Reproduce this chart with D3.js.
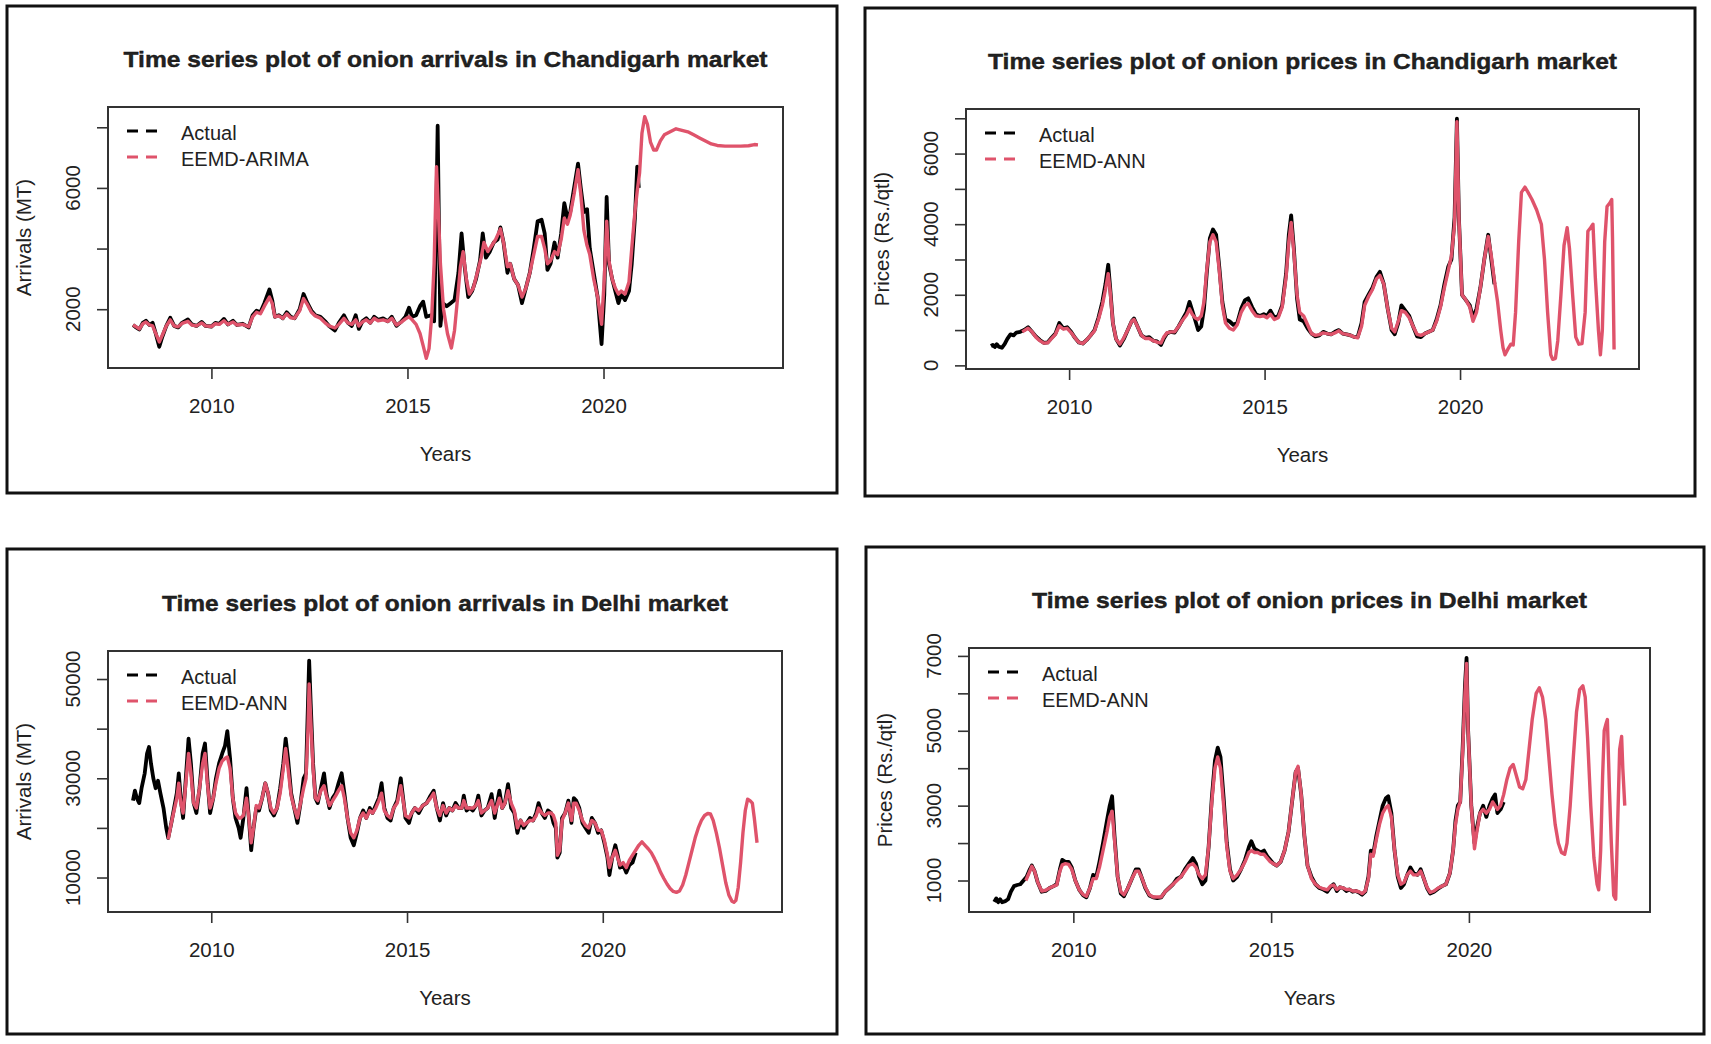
<!DOCTYPE html>
<html><head><meta charset="utf-8">
<script src="https://cdn.jsdelivr.net/npm/d3@7"></script>
<style>
body{margin:0;background:#fff}
svg text{font-family:"Liberation Sans",Arial,sans-serif;fill:#222}
</style>
</head><body>
<svg id="chart" width="1711" height="1044"></svg>
<script>
// ---------------- DATA ----------------
const xTicks = [2010, 2015, 2020];

const tlTitle = "Time series plot of onion arrivals in Chandigarh market";
const trTitle = "Time series plot of onion prices in Chandigarh market";
const blTitle = "Time series plot of onion arrivals in Delhi market";
const brTitle = "Time series plot of onion prices in Delhi market";

const tlYTicks = [2000, 4000, 6000, 8000];
const tlYLabels = [2000, 6000];
const trYTicks = [0, 1000, 2000, 3000, 4000, 5000, 6000, 7000];
const trYLabels = [0, 2000, 4000, 6000];
const blYTicks = [10000, 20000, 30000, 40000, 50000];
const blYLabels = [10000, 30000, 50000];
const brYTicks = [1000, 2000, 3000, 4000, 5000, 6000, 7000];
const brYLabels = [1000, 3000, 5000, 7000];

// Chandigarh arrivals: actual
const tlActual = [[2008.00,1480],[2008.08,1400],[2008.16,1330],[2008.25,1550],[2008.33,1620],[2008.42,1480],[2008.50,1550],[2008.58,1200],[2008.67,760],[2008.75,1100],[2008.85,1450],[2008.95,1720],[2009.05,1450],[2009.15,1400],[2009.25,1550],[2009.40,1660],[2009.50,1500],[2009.62,1450],[2009.75,1580],[2009.85,1450],[2010.00,1430],[2010.10,1550],[2010.20,1520],[2010.32,1680],[2010.42,1500],[2010.55,1620],[2010.65,1480],[2010.80,1520],[2010.95,1400],[2011.05,1800],[2011.15,1950],[2011.25,1900],[2011.35,2200],[2011.48,2650],[2011.55,2300],[2011.62,1750],[2011.72,1800],[2011.82,1700],[2011.92,1900],[2012.02,1750],[2012.12,1700],[2012.25,2000],[2012.35,2500],[2012.45,2200],[2012.55,1950],[2012.65,1800],[2012.78,1750],[2012.90,1600],[2013.00,1450],[2013.15,1300],[2013.25,1550],[2013.38,1800],[2013.48,1550],[2013.58,1450],[2013.68,1800],[2013.76,1350],[2013.85,1600],[2013.95,1700],[2014.05,1550],[2014.15,1750],[2014.25,1650],[2014.38,1700],[2014.50,1600],[2014.60,1750],[2014.72,1450],[2014.85,1600],[2014.95,1750],[2015.04,2050],[2015.12,1750],[2015.22,1800],[2015.32,2100],[2015.40,2250],[2015.48,1750],[2015.60,1800],[2015.68,1600],[2015.74,5500],[2015.77,8050],[2015.80,5000],[2015.84,1450],[2015.90,2200],[2016.00,2100],[2016.10,2200],[2016.20,2300],[2016.30,3200],[2016.38,4500],[2016.45,3500],[2016.55,2400],[2016.65,2600],[2016.75,3000],[2016.85,3600],[2016.92,4500],[2017.00,3700],[2017.10,3900],[2017.20,4200],[2017.30,4300],[2017.37,4700],[2017.45,4200],[2017.55,3200],[2017.62,3500],[2017.72,3000],[2017.82,2800],[2017.92,2200],[2018.02,2700],[2018.12,3200],[2018.22,4000],[2018.32,4900],[2018.42,4950],[2018.50,4500],[2018.57,3300],[2018.65,3500],[2018.75,4200],[2018.83,3700],[2018.92,4500],[2019.00,5500],[2019.08,5000],[2019.15,5200],[2019.25,6000],[2019.35,6800],[2019.42,6000],[2019.50,5200],[2019.58,5300],[2019.65,4000],[2019.75,3200],[2019.85,2400],[2019.95,850],[2020.02,2500],[2020.08,5700],[2020.14,3500],[2020.22,3000],[2020.30,2600],[2020.38,2200],[2020.45,2500],[2020.55,2300],[2020.65,2600],[2020.72,3500],[2020.80,5000],[2020.86,6700],[2020.90,6000]];

// Chandigarh arrivals: EEMD-ARIMA fitted + forecast
const tlFit = [[2008.00,1480],[2008.08,1420],[2008.16,1350],[2008.25,1520],[2008.33,1580],[2008.42,1480],[2008.50,1450],[2008.58,1200],[2008.67,920],[2008.75,1150],[2008.85,1450],[2008.95,1650],[2009.05,1450],[2009.15,1420],[2009.25,1530],[2009.40,1600],[2009.50,1480],[2009.62,1450],[2009.75,1550],[2009.85,1450],[2010.00,1430],[2010.10,1520],[2010.20,1500],[2010.32,1620],[2010.42,1500],[2010.55,1580],[2010.65,1480],[2010.80,1500],[2010.95,1420],[2011.05,1750],[2011.15,1900],[2011.25,1850],[2011.35,2100],[2011.48,2400],[2011.55,2200],[2011.62,1750],[2011.72,1780],[2011.82,1700],[2011.92,1850],[2012.02,1720],[2012.12,1700],[2012.25,1950],[2012.35,2350],[2012.45,2150],[2012.55,1900],[2012.65,1780],[2012.78,1700],[2012.90,1550],[2013.00,1450],[2013.15,1380],[2013.25,1500],[2013.38,1700],[2013.48,1550],[2013.58,1500],[2013.68,1650],[2013.76,1450],[2013.85,1580],[2013.95,1650],[2014.05,1550],[2014.15,1700],[2014.25,1620],[2014.38,1650],[2014.50,1600],[2014.60,1700],[2014.72,1480],[2014.85,1580],[2014.95,1680],[2015.04,1750],[2015.12,1650],[2015.22,1500],[2015.32,1200],[2015.40,800],[2015.48,380],[2015.55,700],[2015.62,1800],[2015.68,3500],[2015.74,6700],[2015.78,5500],[2015.84,3500],[2015.92,2000],[2016.02,1200],[2016.12,720],[2016.20,1300],[2016.28,2400],[2016.35,3400],[2016.42,3900],[2016.50,3000],[2016.58,2500],[2016.68,2700],[2016.78,3200],[2016.88,3700],[2016.95,4200],[2017.05,3900],[2017.15,4100],[2017.25,4300],[2017.37,4650],[2017.45,4200],[2017.55,3400],[2017.62,3500],[2017.72,3000],[2017.82,2800],[2017.92,2400],[2018.02,2700],[2018.12,3200],[2018.22,3800],[2018.32,4400],[2018.42,4400],[2018.50,4000],[2018.57,3500],[2018.65,3600],[2018.75,3900],[2018.83,3800],[2018.92,4300],[2019.00,5000],[2019.08,4800],[2019.15,5100],[2019.25,5800],[2019.35,6600],[2019.42,5800],[2019.50,4600],[2019.58,4100],[2019.65,3800],[2019.75,3000],[2019.85,2400],[2019.95,1500],[2020.02,3000],[2020.08,4900],[2020.14,3600],[2020.22,3000],[2020.30,2700],[2020.38,2500],[2020.45,2600],[2020.55,2500],[2020.65,2900],[2020.72,4000],[2020.80,5200],[2020.86,5900],[2020.92,6500],[2020.98,7800],[2021.05,8350],[2021.12,8100],[2021.20,7500],[2021.28,7250],[2021.35,7250],[2021.45,7550],[2021.55,7750],[2021.70,7850],[2021.85,7950],[2022.00,7900],[2022.15,7850],[2022.30,7750],[2022.45,7650],[2022.60,7550],[2022.75,7450],[2022.90,7400],[2023.10,7380],[2023.30,7380],[2023.50,7380],[2023.70,7390],[2023.85,7430],[2023.94,7420]];

// Chandigarh prices: actual
const trActual = [[2008.00,550],[2008.05,580],[2008.10,520],[2008.15,600],[2008.20,530],[2008.28,500],[2008.35,600],[2008.42,750],[2008.50,880],[2008.58,850],[2008.65,930],[2008.75,950],[2008.85,1000],[2008.95,1080],[2009.05,950],[2009.15,820],[2009.25,720],[2009.35,640],[2009.45,650],[2009.55,780],[2009.65,900],[2009.75,1200],[2009.85,1050],[2009.95,1080],[2010.05,950],[2010.15,780],[2010.25,650],[2010.35,620],[2010.45,720],[2010.55,850],[2010.65,1000],[2010.75,1350],[2010.85,1800],[2010.93,2300],[2011.00,2850],[2011.05,2200],[2011.12,1200],[2011.20,750],[2011.30,560],[2011.40,750],[2011.50,1000],[2011.60,1250],[2011.66,1330],[2011.75,1100],[2011.85,850],[2011.95,780],[2012.05,800],[2012.15,700],[2012.25,680],[2012.35,580],[2012.42,750],[2012.50,900],[2012.60,950],[2012.70,930],[2012.80,1100],[2012.90,1300],[2013.00,1500],[2013.08,1800],[2013.15,1550],[2013.22,1300],[2013.30,1000],[2013.38,1100],[2013.45,1600],[2013.52,2600],[2013.60,3600],[2013.68,3850],[2013.76,3700],[2013.84,2800],[2013.92,1800],[2014.00,1300],[2014.10,1250],[2014.20,1150],[2014.30,1200],[2014.40,1600],[2014.50,1850],[2014.58,1900],[2014.68,1650],[2014.78,1450],[2014.88,1400],[2014.98,1450],[2015.06,1400],[2015.15,1550],[2015.25,1350],[2015.35,1400],[2015.45,1700],[2015.55,2600],[2015.62,3700],[2015.68,4250],[2015.75,3300],[2015.83,1900],[2015.90,1300],[2016.00,1250],[2016.10,1050],[2016.20,900],[2016.30,820],[2016.40,850],[2016.50,950],[2016.60,900],[2016.70,880],[2016.80,950],[2016.90,1000],[2017.00,900],[2017.10,880],[2017.20,850],[2017.30,800],[2017.38,800],[2017.48,1200],[2017.56,1800],[2017.66,2000],[2017.76,2200],[2017.86,2500],[2017.95,2650],[2018.05,2300],[2018.15,1600],[2018.25,1000],[2018.33,880],[2018.42,1200],[2018.50,1700],[2018.60,1550],[2018.70,1400],[2018.80,1100],[2018.90,820],[2019.00,800],[2019.10,900],[2019.20,950],[2019.30,1000],[2019.40,1300],[2019.50,1700],[2019.60,2300],[2019.70,2800],[2019.78,3000],[2019.86,4200],[2019.92,6990],[2019.97,4200],[2020.05,2000],[2020.15,1850],[2020.25,1700],[2020.33,1350],[2020.42,1600],[2020.52,2200],[2020.62,3000],[2020.72,3700],[2020.80,3000],[2020.88,2300]];

// Chandigarh prices: EEMD-ANN fitted + forecast
const trFit = [[2008.80,950],[2008.95,1050],[2009.05,950],[2009.15,800],[2009.25,700],[2009.35,630],[2009.45,640],[2009.55,760],[2009.65,880],[2009.75,1120],[2009.85,1030],[2009.95,1050],[2010.05,930],[2010.15,780],[2010.25,650],[2010.35,620],[2010.45,720],[2010.55,850],[2010.65,980],[2010.75,1300],[2010.85,1700],[2010.93,2150],[2011.00,2600],[2011.05,2100],[2011.12,1200],[2011.20,750],[2011.30,600],[2011.40,780],[2011.50,1000],[2011.60,1250],[2011.66,1300],[2011.75,1100],[2011.85,850],[2011.95,760],[2012.05,760],[2012.15,700],[2012.25,660],[2012.35,630],[2012.42,800],[2012.50,920],[2012.60,950],[2012.70,950],[2012.80,1100],[2012.90,1280],[2013.00,1420],[2013.08,1600],[2013.15,1450],[2013.22,1350],[2013.30,1300],[2013.38,1400],[2013.45,1800],[2013.52,2700],[2013.60,3500],[2013.68,3700],[2013.76,3500],[2013.84,2700],[2013.92,1700],[2014.00,1200],[2014.10,1050],[2014.20,1000],[2014.30,1150],[2014.40,1500],[2014.50,1700],[2014.58,1750],[2014.68,1550],[2014.78,1400],[2014.88,1380],[2014.98,1400],[2015.06,1350],[2015.15,1450],[2015.25,1300],[2015.35,1350],[2015.45,1650],[2015.55,2500],[2015.62,3500],[2015.68,4050],[2015.75,3200],[2015.83,2000],[2015.90,1500],[2016.00,1400],[2016.10,1150],[2016.20,900],[2016.30,850],[2016.40,870],[2016.50,920],[2016.60,900],[2016.70,880],[2016.80,920],[2016.90,980],[2017.00,900],[2017.10,880],[2017.20,850],[2017.30,800],[2017.38,780],[2017.48,1100],[2017.56,1700],[2017.66,1950],[2017.76,2150],[2017.86,2450],[2017.95,2550],[2018.05,2300],[2018.15,1600],[2018.25,1050],[2018.33,950],[2018.42,1250],[2018.50,1550],[2018.60,1500],[2018.70,1350],[2018.80,1100],[2018.90,880],[2019.00,850],[2019.10,900],[2019.20,950],[2019.30,1000],[2019.40,1250],[2019.50,1650],[2019.60,2200],[2019.70,2700],[2019.78,3100],[2019.86,4000],[2019.92,6900],[2019.97,4200],[2020.05,2000],[2020.15,1850],[2020.25,1650],[2020.33,1250],[2020.42,1500],[2020.52,2200],[2020.62,3000],[2020.72,3650],[2020.80,3100],[2020.88,2400],[2020.96,1800],[2021.04,1000],[2021.10,500],[2021.15,300],[2021.22,450],[2021.30,600],[2021.36,580],[2021.42,1500],[2021.50,3500],[2021.57,4900],[2021.66,5050],[2021.74,4900],[2021.84,4700],[2021.96,4400],[2022.08,4000],[2022.16,3000],[2022.24,1500],[2022.32,300],[2022.37,170],[2022.44,200],[2022.50,700],[2022.58,2000],[2022.66,3400],[2022.74,3900],[2022.80,3300],[2022.88,2000],[2022.96,800],[2023.04,600],[2023.12,620],[2023.20,1500],[2023.27,3800],[2023.34,3900],[2023.40,4000],[2023.46,2500],[2023.54,1000],[2023.59,300],[2023.64,1000],[2023.70,3500],[2023.76,4500],[2023.83,4600],[2023.88,4700],[2023.90,3600],[2023.94,450]];

// Delhi arrivals: actual
const blActual = [[2008.00,25500],[2008.05,27500],[2008.10,26000],[2008.16,25000],[2008.22,28000],[2008.30,31000],[2008.36,35000],[2008.41,36300],[2008.46,33000],[2008.52,30000],[2008.58,28000],[2008.64,29500],[2008.70,27000],[2008.78,24000],[2008.85,20000],[2008.90,18000],[2008.98,21000],[2009.05,24000],[2009.12,27000],[2009.17,31000],[2009.22,26000],[2009.28,22000],[2009.35,30000],[2009.42,38000],[2009.48,33000],[2009.55,25000],[2009.62,23000],[2009.70,28000],[2009.78,35000],[2009.84,37000],[2009.90,30000],[2009.97,23000],[2010.05,26000],[2010.12,30000],[2010.20,33000],[2010.28,35000],[2010.35,36500],[2010.41,39500],[2010.48,34000],[2010.55,26000],[2010.62,22000],[2010.70,20000],[2010.75,18000],[2010.82,22000],[2010.90,28000],[2010.96,22000],[2011.02,15500],[2011.08,20000],[2011.15,24000],[2011.22,23500],[2011.30,26000],[2011.38,29000],[2011.45,27000],[2011.52,23500],[2011.60,22500],[2011.68,24000],[2011.76,28000],[2011.84,33000],[2011.90,38000],[2011.96,34000],[2012.04,27000],[2012.12,24000],[2012.20,21000],[2012.28,25000],[2012.36,30000],[2012.42,31000],[2012.47,45000],[2012.50,53700],[2012.54,45000],[2012.60,33000],[2012.66,26000],[2012.72,25000],[2012.80,28000],[2012.88,31000],[2012.94,27000],[2013.02,24000],[2013.10,26000],[2013.18,27000],[2013.25,29000],[2013.33,31000],[2013.40,27000],[2013.48,22000],[2013.56,18000],[2013.64,16500],[2013.72,19000],[2013.80,22000],[2013.88,23500],[2013.96,22000],[2014.05,24000],[2014.12,23000],[2014.20,24500],[2014.28,26000],[2014.35,29000],[2014.42,24000],[2014.50,22000],[2014.58,21500],[2014.66,24000],[2014.75,25500],[2014.84,30000],[2014.90,26000],[2014.96,22000],[2015.05,21000],[2015.12,23000],[2015.20,24000],[2015.30,23000],[2015.40,24500],[2015.50,25000],[2015.60,26500],[2015.68,27500],[2015.76,24000],[2015.84,21500],[2015.92,25000],[2016.00,22500],[2016.08,24000],[2016.16,23500],[2016.24,25000],[2016.32,24000],[2016.40,24000],[2016.45,26500],[2016.52,23500],[2016.60,24000],[2016.68,23500],[2016.76,24500],[2016.82,26500],[2016.90,22500],[2016.98,23500],[2017.06,24000],[2017.16,26800],[2017.24,22000],[2017.30,25000],[2017.36,27500],[2017.43,24000],[2017.50,25000],[2017.58,28800],[2017.66,24000],[2017.74,23000],[2017.82,19000],[2017.90,21500],[2017.98,20000],[2018.06,21000],[2018.14,22000],[2018.22,21500],[2018.30,23000],[2018.36,25000],[2018.44,23000],[2018.52,22000],[2018.60,23500],[2018.68,23000],[2018.74,21000],[2018.80,20000],[2018.84,14000],[2018.90,15000],[2018.96,22000],[2019.04,23000],[2019.12,25500],[2019.20,21000],[2019.26,26000],[2019.32,25500],[2019.40,24000],[2019.48,21000],[2019.56,20000],[2019.64,19000],[2019.72,22000],[2019.80,21000],[2019.88,19000],[2019.96,19500],[2020.04,17000],[2020.12,14000],[2020.17,10500],[2020.24,14000],[2020.32,16500],[2020.38,14500],[2020.44,12000],[2020.52,12500],[2020.60,11000],[2020.68,12500],[2020.76,13000],[2020.84,15000]];

// Delhi arrivals: EEMD-ANN fitted + forecast
const blFit = [[2008.90,17700],[2008.98,21000],[2009.05,23500],[2009.12,26000],[2009.17,29000],[2009.22,25000],[2009.28,23000],[2009.35,29000],[2009.42,35000],[2009.48,31000],[2009.55,25000],[2009.62,24000],[2009.70,28000],[2009.78,33000],[2009.84,35000],[2009.90,29000],[2009.97,24000],[2010.05,26000],[2010.12,29000],[2010.20,32000],[2010.28,33500],[2010.35,34000],[2010.41,34300],[2010.48,32000],[2010.55,26000],[2010.62,23000],[2010.70,22000],[2010.75,22000],[2010.82,22500],[2010.90,26000],[2010.96,22000],[2011.02,17000],[2011.08,20000],[2011.15,24500],[2011.22,24000],[2011.30,26000],[2011.38,29000],[2011.45,27000],[2011.52,24000],[2011.60,23000],[2011.68,24000],[2011.76,27000],[2011.84,32000],[2011.90,36000],[2011.96,32000],[2012.04,26500],[2012.12,24000],[2012.20,22000],[2012.28,25000],[2012.36,28000],[2012.42,30000],[2012.47,40000],[2012.50,49000],[2012.54,42000],[2012.60,32000],[2012.66,26000],[2012.72,25500],[2012.80,27500],[2012.88,28500],[2012.94,26500],[2013.02,24500],[2013.10,25500],[2013.18,26500],[2013.25,27500],[2013.33,28500],[2013.40,26000],[2013.48,22000],[2013.56,19000],[2013.64,18000],[2013.72,19500],[2013.80,22000],[2013.88,23000],[2013.96,22000],[2014.05,23500],[2014.12,23000],[2014.20,24000],[2014.28,25500],[2014.35,27000],[2014.42,23500],[2014.50,22500],[2014.58,22000],[2014.66,24000],[2014.75,25000],[2014.84,28500],[2014.90,25500],[2014.96,22500],[2015.05,22000],[2015.12,23000],[2015.20,24000],[2015.30,23500],[2015.40,24500],[2015.50,25000],[2015.60,26000],[2015.68,27000],[2015.76,24000],[2015.84,22500],[2015.92,24500],[2016.00,23000],[2016.08,24000],[2016.16,23500],[2016.24,24500],[2016.32,24000],[2016.40,24000],[2016.45,25500],[2016.52,24000],[2016.60,24000],[2016.68,24000],[2016.76,24500],[2016.82,25500],[2016.90,23000],[2016.98,23500],[2017.06,24000],[2017.16,25500],[2017.24,23000],[2017.30,24500],[2017.36,26000],[2017.43,24000],[2017.50,25000],[2017.58,27500],[2017.66,25000],[2017.74,23500],[2017.82,20000],[2017.90,21500],[2017.98,20500],[2018.06,21000],[2018.14,21500],[2018.22,21500],[2018.30,22500],[2018.36,24000],[2018.44,23000],[2018.52,22500],[2018.60,23000],[2018.68,23000],[2018.74,22500],[2018.80,21000],[2018.84,14500],[2018.90,15500],[2018.96,21500],[2019.04,23000],[2019.12,25000],[2019.20,21500],[2019.26,25000],[2019.32,25000],[2019.40,23500],[2019.48,21500],[2019.56,20500],[2019.64,20000],[2019.72,21500],[2019.80,21000],[2019.88,19500],[2019.96,19500],[2020.04,17500],[2020.12,14500],[2020.17,12000],[2020.24,14000],[2020.32,15500],[2020.38,14000],[2020.44,12500],[2020.52,13000],[2020.60,12000],[2020.68,13500],[2020.76,14500],[2020.84,15500],[2020.92,16500],[2021.00,17200],[2021.08,16500],[2021.16,15800],[2021.24,15000],[2021.32,13800],[2021.40,12500],[2021.48,11000],[2021.56,9800],[2021.64,8700],[2021.72,7800],[2021.80,7200],[2021.88,7000],[2021.96,7300],[2022.04,8500],[2022.12,10500],[2022.20,13000],[2022.28,15500],[2022.36,18000],[2022.44,20000],[2022.52,21500],[2022.60,22500],[2022.68,22900],[2022.75,22800],[2022.82,21500],[2022.90,19000],[2022.98,16000],[2023.06,12500],[2023.14,9000],[2023.22,6500],[2023.30,5200],[2023.35,5000],[2023.40,5400],[2023.46,8000],[2023.52,13000],[2023.58,19000],[2023.64,23500],[2023.70,25800],[2023.76,25500],[2023.82,25000],[2023.87,22000],[2023.94,17000]];

// Delhi prices: actual
const brActual = [[2008.00,430],[2008.05,520],[2008.10,420],[2008.15,500],[2008.20,420],[2008.28,450],[2008.35,500],[2008.42,700],[2008.50,850],[2008.58,880],[2008.66,900],[2008.74,1000],[2008.82,1100],[2008.90,1300],[2008.95,1400],[2009.02,1250],[2009.10,950],[2009.20,700],[2009.30,720],[2009.40,800],[2009.50,850],[2009.58,900],[2009.66,1300],[2009.72,1550],[2009.80,1500],[2009.88,1500],[2009.96,1350],[2010.05,1000],[2010.15,750],[2010.25,600],[2010.33,550],[2010.42,800],[2010.50,1150],[2010.58,1100],[2010.66,1500],[2010.75,2000],[2010.85,2600],[2010.92,3000],[2010.98,3250],[2011.04,2200],[2011.12,1100],[2011.20,650],[2011.28,580],[2011.38,800],[2011.48,1050],[2011.58,1300],[2011.65,1300],[2011.72,1100],[2011.82,800],[2011.92,600],[2012.02,550],[2012.12,530],[2012.22,550],[2012.32,700],[2012.42,800],[2012.52,900],[2012.62,1050],[2012.72,1100],[2012.82,1300],[2012.92,1450],[2013.02,1600],[2013.10,1450],[2013.18,1100],[2013.26,900],[2013.34,1000],[2013.42,1900],[2013.50,3200],[2013.58,4200],[2013.65,4550],[2013.72,4300],[2013.80,3200],[2013.88,2000],[2013.96,1300],[2014.04,1000],[2014.14,1100],[2014.24,1300],[2014.34,1550],[2014.44,1900],[2014.50,2050],[2014.58,1850],[2014.66,1800],[2014.74,1750],[2014.82,1800],[2014.90,1650],[2014.98,1550],[2015.06,1450],[2015.14,1400],[2015.24,1500],[2015.34,1800],[2015.44,2300],[2015.54,3200],[2015.62,3900],[2015.68,4000],[2015.76,3300],[2015.84,2200],[2015.92,1400],[2016.02,1100],[2016.12,900],[2016.22,800],[2016.32,760],[2016.42,700],[2016.50,820],[2016.58,900],[2016.66,720],[2016.74,820],[2016.82,800],[2016.90,720],[2016.98,760],[2017.06,700],[2017.14,720],[2017.22,680],[2017.30,620],[2017.38,700],[2017.46,1100],[2017.52,1800],[2017.58,1700],[2017.66,2200],[2017.74,2600],[2017.82,3000],[2017.90,3200],[2017.96,3250],[2018.04,2800],[2018.12,1800],[2018.20,1100],[2018.28,800],[2018.36,900],[2018.44,1150],[2018.52,1350],[2018.60,1200],[2018.70,1150],[2018.78,1300],[2018.86,1050],[2018.94,800],[2019.02,650],[2019.12,700],[2019.22,780],[2019.32,850],[2019.42,900],[2019.52,1200],[2019.60,1800],[2019.66,2600],[2019.72,3000],[2019.78,3100],[2019.84,4500],[2019.90,6200],[2019.94,6950],[2019.98,5000],[2020.06,3000],[2020.14,2000],[2020.20,2400],[2020.28,2800],[2020.36,3000],[2020.44,2700],[2020.52,3000],[2020.60,3200],[2020.66,3300],[2020.72,2800],[2020.80,2900],[2020.88,3100]];

// Delhi prices: EEMD-ANN fitted + forecast
const brFit = [[2008.80,1000],[2008.88,1200],[2008.95,1380],[2009.02,1250],[2009.10,950],[2009.20,720],[2009.30,740],[2009.40,800],[2009.50,850],[2009.58,880],[2009.66,1250],[2009.72,1420],[2009.80,1450],[2009.88,1430],[2009.96,1300],[2010.05,1000],[2010.15,750],[2010.25,620],[2010.33,580],[2010.42,800],[2010.50,1050],[2010.58,1050],[2010.66,1350],[2010.75,1800],[2010.85,2300],[2010.92,2700],[2010.98,2850],[2011.04,2100],[2011.12,1100],[2011.20,700],[2011.28,620],[2011.38,800],[2011.48,1050],[2011.58,1250],[2011.65,1250],[2011.72,1100],[2011.82,820],[2011.92,620],[2012.02,560],[2012.12,560],[2012.22,560],[2012.32,700],[2012.42,800],[2012.52,900],[2012.62,1000],[2012.72,1100],[2012.82,1250],[2012.92,1400],[2013.02,1450],[2013.10,1350],[2013.18,1150],[2013.26,1050],[2013.34,1150],[2013.42,1900],[2013.50,3100],[2013.58,4000],[2013.65,4300],[2013.72,4000],[2013.80,3000],[2013.88,1900],[2013.96,1250],[2014.04,1050],[2014.14,1150],[2014.24,1300],[2014.34,1500],[2014.44,1750],[2014.50,1800],[2014.58,1750],[2014.66,1750],[2014.74,1700],[2014.82,1700],[2014.90,1600],[2014.98,1500],[2015.06,1450],[2015.14,1400],[2015.24,1500],[2015.34,1800],[2015.44,2300],[2015.54,3200],[2015.62,3900],[2015.68,4050],[2015.76,3300],[2015.84,2200],[2015.92,1400],[2016.02,1050],[2016.12,900],[2016.22,820],[2016.32,780],[2016.42,750],[2016.50,850],[2016.58,880],[2016.66,760],[2016.74,820],[2016.82,800],[2016.90,760],[2016.98,760],[2017.06,720],[2017.14,720],[2017.22,700],[2017.30,650],[2017.38,720],[2017.46,1050],[2017.52,1700],[2017.58,1650],[2017.66,2100],[2017.74,2500],[2017.82,2800],[2017.90,2950],[2017.96,3000],[2018.04,2700],[2018.12,1800],[2018.20,1150],[2018.28,900],[2018.36,950],[2018.44,1150],[2018.52,1250],[2018.60,1150],[2018.70,1150],[2018.78,1250],[2018.86,1050],[2018.94,820],[2019.02,680],[2019.12,720],[2019.22,800],[2019.32,850],[2019.42,900],[2019.52,1200],[2019.60,1800],[2019.66,2500],[2019.72,2900],[2019.78,3100],[2019.84,4400],[2019.90,6000],[2019.94,6800],[2019.98,5000],[2020.06,3000],[2020.14,1850],[2020.20,2300],[2020.28,2800],[2020.36,2900],[2020.44,2800],[2020.52,2900],[2020.60,3100],[2020.66,3000],[2020.72,2900],[2020.80,3000],[2020.88,3300],[2020.96,3700],[2021.04,4000],[2021.12,4100],[2021.20,3800],[2021.28,3500],[2021.36,3450],[2021.44,3700],[2021.52,4500],[2021.60,5300],[2021.70,6000],[2021.78,6150],[2021.86,5900],[2021.94,5300],[2022.02,4300],[2022.10,3300],[2022.18,2500],[2022.26,2000],[2022.34,1750],[2022.42,1700],[2022.48,2000],[2022.56,3000],[2022.64,4300],[2022.72,5500],[2022.80,6100],[2022.88,6200],[2022.94,5900],[2023.00,4800],[2023.08,3000],[2023.16,1600],[2023.24,900],[2023.28,750],[2023.33,1800],[2023.38,3800],[2023.42,5000],[2023.47,5200],[2023.50,5300],[2023.55,3500],[2023.60,2000],[2023.66,600],[2023.71,500],[2023.76,2500],[2023.81,4500],[2023.86,4850],[2023.89,4000],[2023.94,3000]];

// ---------------- LAYOUT ----------------
const panels = [
  {title: tlTitle, titleW: 644, ylab: "Arrivals (MT)", legend: ["Actual", "EEMD-ARIMA"],
   actual: tlActual, fit: tlFit, yTicks: tlYTicks, yLabels: tlYLabels,
   box: [7, 6, 837, 493], plot: [108, 107, 783, 368]},
  {title: trTitle, titleW: 629, ylab: "Prices (Rs./qtl)", legend: ["Actual", "EEMD-ANN"],
   actual: trActual, fit: trFit, yTicks: trYTicks, yLabels: trYLabels,
   box: [865, 8, 1695, 496], plot: [966, 109, 1639, 369]},
  {title: blTitle, titleW: 566, ylab: "Arrivals (MT)", legend: ["Actual", "EEMD-ANN"],
   actual: blActual, fit: blFit, yTicks: blYTicks, yLabels: blYLabels,
   box: [7, 549, 837, 1034], plot: [108, 651, 782, 912]},
  {title: brTitle, titleW: 555, ylab: "Prices (Rs./qtl)", legend: ["Actual", "EEMD-ANN"],
   actual: brActual, fit: brFit, yTicks: brYTicks, yLabels: brYLabels,
   box: [866, 547, 1704, 1034], plot: [969, 648, 1650, 912]}
];

const RED = "#DF536B";
const svg = d3.select("#chart");
svg.append("rect").attr("width", 1711).attr("height", 1044).attr("fill", "#fff");

function drawPanel(p) {
  const g = svg.append("g");
  const [L, T, R, B] = p.plot;
  g.append("rect")
    .attr("x", p.box[0]).attr("y", p.box[1])
    .attr("width", p.box[2] - p.box[0]).attr("height", p.box[3] - p.box[1])
    .attr("fill", "none").attr("stroke", "#111").attr("stroke-width", 3);

  const all = p.actual.concat(p.fit);
  const xe = d3.extent(all, d => d[0]);
  const ye = d3.extent(all, d => d[1]);
  const xp = (xe[1] - xe[0]) * 0.04, yp = (ye[1] - ye[0]) * 0.04;
  const x = d3.scaleLinear().domain([xe[0] - xp, xe[1] + xp]).range([L, R]);
  const y = d3.scaleLinear().domain([ye[0] - yp, ye[1] + yp]).range([B, T]);

  const line = d3.line().x(d => x(d[0])).y(d => y(d[1]));
  g.append("path").datum(p.actual).attr("d", line)
    .attr("fill", "none").attr("stroke", "#000").attr("stroke-width", 3.8)
    .attr("stroke-linejoin", "round");
  g.append("path").datum(p.fit).attr("d", line)
    .attr("fill", "none").attr("stroke", RED).attr("stroke-width", 3.4)
    .attr("stroke-linejoin", "round");

  g.append("rect").attr("x", L).attr("y", T).attr("width", R - L).attr("height", B - T)
    .attr("fill", "none").attr("stroke", "#333").attr("stroke-width", 2);

  // x axis
  const xa = g.append("g").attr("transform", `translate(0,${B})`)
    .call(d3.axisBottom(x).tickValues(xTicks).tickSize(11).tickPadding(19).tickFormat(d3.format("d")));
  xa.select(".domain").remove();
  xa.selectAll("line").attr("stroke", "#333").attr("stroke-width", 1.6);
  xa.selectAll("text").attr("font-size", 20.5).attr("font-family", "Liberation Sans, Arial, sans-serif").attr("fill", "#222");

  // y axis ticks
  const ya = g.append("g").attr("transform", `translate(${L},0)`)
    .call(d3.axisLeft(y).tickValues(p.yTicks).tickSize(11).tickFormat(""));
  ya.select(".domain").remove();
  ya.selectAll("line").attr("stroke", "#333").attr("stroke-width", 1.6);
  g.selectAll(".ylab").data(p.yLabels).enter().append("text")
    .attr("transform", d => `translate(${L - 28.5},${y(d)}) rotate(-90)`)
    .attr("text-anchor", "middle").attr("font-size", 20.5)
    .text(d => d3.format("d")(d));

  // titles
  g.append("text").attr("x", (L + R) / 2).attr("y", T - 40)
    .attr("text-anchor", "middle").attr("font-size", 22).attr("font-weight", "bold")
    .attr("fill", "#111").attr("stroke", "#111").attr("stroke-width", 0.4)
    .attr("textLength", p.titleW).attr("lengthAdjust", "spacingAndGlyphs")
    .text(p.title);
  g.append("text").attr("x", (L + R) / 2).attr("y", B + 93)
    .attr("text-anchor", "middle").attr("font-size", 20.5).text("Years");
  g.append("text")
    .attr("transform", `translate(${L - 77},${(T + B) / 2}) rotate(-90)`)
    .attr("text-anchor", "middle").attr("font-size", 20.5).text(p.ylab);

  // legend
  const cols = ["#000", RED];
  p.legend.forEach((lab, i) => {
    const ly = T + 24 + i * 26;
    g.append("line").attr("x1", L + 19).attr("x2", L + 50).attr("y1", ly).attr("y2", ly)
      .attr("stroke", cols[i]).attr("stroke-width", 3).attr("stroke-dasharray", "11,8");
    g.append("text").attr("x", L + 73).attr("y", ly + 9).attr("font-size", 20).text(lab);
  });
}

panels.forEach(drawPanel);
</script>
</body></html>
